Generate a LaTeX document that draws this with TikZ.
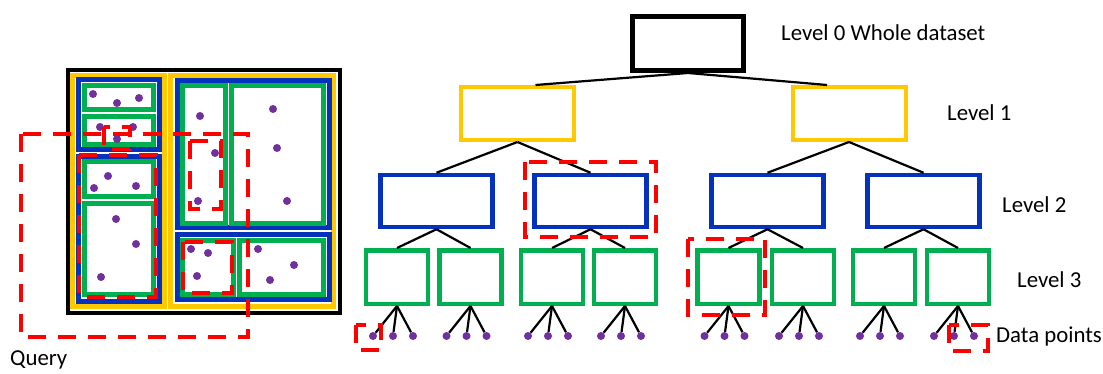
\documentclass[tikz,border=0pt]{standalone}
\usepackage{fontspec}
\setmainfont{Carlito}
\definecolor{gold}{RGB}{255,200,0}
\definecolor{royal}{RGB}{4,50,188}
\definecolor{leaf}{RGB}{0,176,80}
\definecolor{dotPurple}{RGB}{112,48,160}
\tikzset{
  box/.style={draw, inner sep=0pt, fill=white},
  rootBox/.style={box, line width=5pt, minimum width=111pt, minimum height=54pt},
  levelOne/.style={box, draw=gold, line width=4pt, minimum width=113pt, minimum height=53pt},
  levelTwo/.style={box, draw=royal, line width=4.5pt, minimum width=112pt, minimum height=52pt},
  levelThree/.style={box, draw=leaf, line width=4.5pt, minimum width=62pt, minimum height=53.5pt},
  dataDot/.style={circle, fill=dotPurple, inner sep=0pt, minimum size=8pt},
  edge/.style={line width=2.2pt},
  query/.style={draw=red, line width=4pt, dash pattern=on 18pt off 12pt},
  levelLabel/.style={anchor=west, inner sep=0pt, font=\fontsize{22.8}{27}\selectfont}
}

\begin{document}
\begin{tikzpicture}[x=1pt, y=-1pt]
  \useasboundingbox (0,0) rectangle (1103,374);

  % space partition
  \draw[line width=4pt] (68,70) rectangle (340,313);
  \draw[gold, line width=5pt] (72.5,75.5) rectangle (164.5,306.5);
  \draw[gold, line width=5pt] (170.5,75.5) rectangle (333.5,306.5);
  \draw[royal, line width=5pt] (78.5,79.5) rectangle (159.5,149.5);
  \draw[royal, line width=5pt] (78.5,156.5) rectangle (159.5,301.5);
  \draw[royal, line width=5pt] (177.5,80.5) rectangle (329.5,227.5);
  \draw[royal, line width=5pt] (177.5,234.5) rectangle (329.5,299.5);
  \foreach \xa/\ya/\xb/\yb in {84.5/85.5/153.5/109.5, 84.5/116.5/153.5/144.5,
      84.5/161.5/153.5/196.5, 84.5/203.5/153.5/294.5, 182.5/85.5/225.5/223.5,
      231.5/85.5/323.5/223.5, 182.5/240.5/233.5/294.5, 239.5/240.5/323.5/294.5}
    \draw[leaf, line width=5pt] (\xa,\ya) rectangle (\xb,\yb);
  \foreach \px/\py in {93/94, 117/103, 139/98, 100/127, 133/127, 117/139,
      108/176, 94/188, 136/186, 116/219, 136/244, 101/277,
      200/116, 215/153, 198/201, 273/109, 277/148, 287/201,
      191/249, 208/253, 197/276, 258/249, 294/265, 270/280}
    \fill[dotPurple] (\px,\py) circle (4pt);
  % query and the cells it touches
  \draw[query] (21,134) rectangle (248,337);
  \draw[query] (104,127) rectangle (130,149);
  \draw[query] (79,155) rectangle (156,297);
  \draw[query] (190,141) rectangle (221,209);
  \draw[query] (183,242) rectangle (232,293);
  \node[levelLabel] (queryLabel) at (10,360) {Query};

  % tree
  \node[rootBox] (root) at (688,43.5) {};
  \node[levelOne] (oneL) at (517.5,113.5) {};
  \node[levelOne] (oneR) at (849,113.5) {};
  \node[levelTwo] (twoA) at (436.5,201) {};
  \node[levelTwo] (twoB) at (590.5,201) {};
  \node[levelTwo] (twoC) at (767.5,201) {};
  \node[levelTwo] (twoD) at (923.5,201) {};
  \foreach \n/\x in {a/397, b/470.5, c/552, d/625, e/728.5, f/803, g/884, h/958} {
    \node[levelThree] (three\n) at (\x,277) {};
    \foreach \d/\o in {1/-24, 2/-4, 3/16} {
      \node[dataDot] (pt\n\d) at (\x+\o,336) {};
      \draw[edge] (three\n.south) -- (pt\n\d);
    }
  }
  \draw[edge] (root.south) -- ([xshift=18pt]oneL.north);
  \draw[edge] (root.south) -- ([xshift=-22pt]oneR.north);
  \draw[edge] (oneL.south) -- (twoA.north);
  \draw[edge] (oneL.south) -- (twoB.north);
  \draw[edge] (oneR.south) -- (twoC.north);
  \draw[edge] (oneR.south) -- (twoD.north);
  \draw[edge] (twoA.south) -- (threea.north);
  \draw[edge] (twoA.south) -- (threeb.north);
  \draw[edge] (twoB.south) -- (threec.north);
  \draw[edge] (twoB.south) -- (threed.north);
  \draw[edge] (twoC.south) -- (threee.north);
  \draw[edge] (twoC.south) -- (threef.north);
  \draw[edge] (twoD.south) -- (threeg.north);
  \draw[edge] (twoD.south) -- (threeh.north);

  % nodes hit by the query
  \draw[query] (525,162) rectangle (656,237);
  \draw[query] (688,239) rectangle (765,315);
  \draw[query] (356,325) rectangle (381,350);
  \draw[query] (949,325) rectangle (988,351);

  \node[levelLabel] (labZero) at (781,33) {Level 0 Whole dataset};
  \node[levelLabel] (labOne) at (947,113) {Level 1};
  \node[levelLabel] (labTwo) at (1002,205) {Level 2};
  \node[levelLabel] (labThree) at (1017,280) {Level 3};
  \node[levelLabel] (labData) at (996,336) {Data points};
\end{tikzpicture}
\end{document}
